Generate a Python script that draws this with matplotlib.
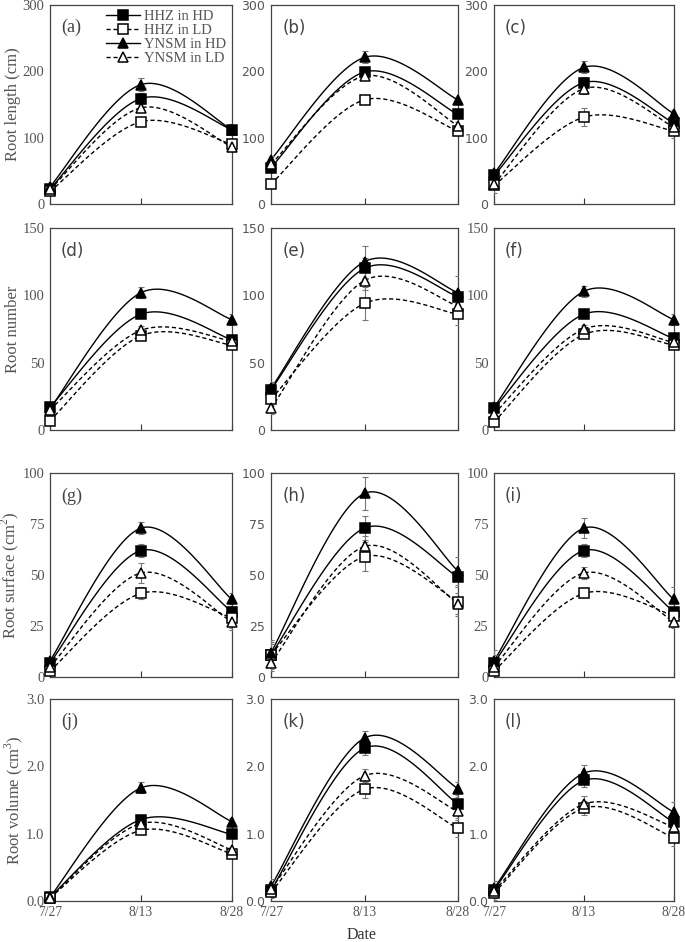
import numpy as np
import matplotlib
matplotlib.use('Agg')
import matplotlib.pyplot as plt
from matplotlib.lines import Line2D

plt.rcParams['mathtext.fontset'] = 'custom'
plt.rcParams['mathtext.rm'] = 'Liberation Serif'

dates = ['7/27', '8/13', '8/28']
series = ['HHZ in HD', 'HHZ in LD', 'YNSM in HD', 'YNSM in LD']

# values per panel, rows = HHZ HD, HHZ LD, YNSM HD, YNSM LD
panel_a = [[23, 159, 112], [19, 124, 90], [26, 180, 112], [22, 145, 86]]
panel_b = [[55, 199, 135], [30, 157, 110], [67, 221, 157], [60, 193, 118]]
panel_c = [[43, 183, 122], [28, 131, 110], [46, 206, 136], [30, 174, 116]]
panel_d = [[17, 86, 67], [7, 70, 63], [16, 102, 82], [15, 74, 66]]
panel_e = [[30, 120, 99], [23, 94, 86], [31, 125, 102], [16, 111, 92]]
panel_f = [[16, 86, 68], [6, 71, 63], [17, 103, 82], [12, 75, 65]]
panel_g = [[7, 62, 32], [3, 41, 29], [8, 73, 38], [5, 51, 27]]
panel_h = [[11, 73, 49], [11, 59, 37], [12, 90, 52], [7, 64, 36]]
panel_i = [[7, 62, 32], [3, 41, 30], [8, 73, 38], [5, 51, 27]]
panel_j = [[0.06, 1.21, 0.99], [0.05, 1.05, 0.70], [0.06, 1.68, 1.18], [0.05, 1.15, 0.76]]
panel_k = [[0.16, 2.27, 1.44], [0.13, 1.66, 1.08], [0.22, 2.42, 1.67], [0.18, 1.86, 1.33]]
panel_l = [[0.17, 1.79, 1.17], [0.12, 1.38, 0.94], [0.19, 1.90, 1.32], [0.15, 1.44, 1.10]]

# standard errors, same layout
err_a = [[4, 8, 8], [4, 5, 6], [5, 10, 6], [4, 6, 6]]
err_b = [[5, 8, 6], [6, 5, 6], [6, 9, 5], [5, 6, 6]]
err_c = [[5, 8, 6], [12, 13, 10], [5, 9, 6], [5, 8, 6]]
err_d = [[3, 3, 3], [2, 2, 2], [3, 4, 4], [3, 3, 3]]
err_e = [[5, 8, 5], [5, 12, 8], [5, 12, 12], [4, 7, 6]]
err_f = [[3, 3, 3], [2, 2, 2], [3, 4, 4], [3, 3, 3]]
err_g = [[2, 3, 4], [2, 3, 5], [2, 3, 3], [2, 5, 4]]
err_h = [[7, 6, 5], [5, 7, 7], [5, 8, 7], [4, 5, 5]]
err_i = [[6, 3, 6], [2, 2, 3], [3, 5, 6], [2, 3, 3]]
err_j = [[0.03, 0.05, 0.05], [0.03, 0.05, 0.04], [0.03, 0.08, 0.05], [0.03, 0.05, 0.04]]
err_k = [[0.10, 0.10, 0.10], [0.08, 0.13, 0.13], [0.10, 0.10, 0.10], [0.08, 0.10, 0.10]]
err_l = [[0.13, 0.10, 0.12], [0.10, 0.10, 0.13], [0.10, 0.12, 0.15], [0.08, 0.12, 0.10]]

ylabels = ['Root length (cm)', 'Root number',
           'Root surface (cm$^{2}$)', 'Root volume (cm$^{3}$)']
yticks_rows = [[0, 100, 200, 300], [0, 50, 100, 150],
               [0, 25, 50, 75, 100], [0, 1, 2, 3]]
ytick_labels_rows = [['0', '100', '200', '300'], ['0', '50', '100', '150'],
                     ['0', '25', '50', '75', '100'], ['0.0', '1.0', '2.0', '3.0']]

panels = [[panel_a, panel_b, panel_c], [panel_d, panel_e, panel_f],
          [panel_g, panel_h, panel_i], [panel_j, panel_k, panel_l]]
errs = [[err_a, err_b, err_c], [err_d, err_e, err_f],
        [err_g, err_h, err_i], [err_j, err_k, err_l]]
letters = [['a', 'b', 'c'], ['d', 'e', 'f'], ['g', 'h', 'i'], ['j', 'k', 'l']]

styles = [dict(ls='-', marker='s', mfc='black'),
          dict(ls=(0, (3, 2)), marker='s', mfc='white'),
          dict(ls='-', marker='^', mfc='black'),
          dict(ls=(0, (3, 2)), marker='^', mfc='white')]

GRAY = '#555555'
SERIF = 'Liberation Serif'
SANS = 'DejaVu Sans'


def smooth(x, y, n=60):
    """Excel-like smoothed line: Catmull-Rom bezier through the points."""
    x = np.asarray(x, float)
    y = np.asarray(y, float)
    px = np.concatenate([[x[0]], x, [x[-1]]])
    py = np.concatenate([[y[0]], y, [y[-1]]])
    xs, ys = [], []
    t = np.linspace(0, 1, n)
    for i in range(1, len(px) - 2):
        p0 = np.array([px[i], py[i]])
        p3 = np.array([px[i + 1], py[i + 1]])
        c1 = p0 + (np.array([px[i + 1], py[i + 1]]) - np.array([px[i - 1], py[i - 1]])) / 6
        c2 = p3 - (np.array([px[i + 2], py[i + 2]]) - np.array([px[i], py[i]])) / 6
        b = ((1 - t) ** 3)[:, None] * p0 + (3 * (1 - t) ** 2 * t)[:, None] * c1 \
            + (3 * (1 - t) * t ** 2)[:, None] * c2 + (t ** 3)[:, None] * p3
        xs.extend(b[:, 0])
        ys.extend(b[:, 1])
    return xs, ys


fig = plt.figure(figsize=(6.85, 9.42), dpi=100)

col_left = [50, 271, 494]
col_width = [182, 187, 180]
row_top = [5, 228, 473, 699]
row_bottom = [204, 430, 677, 901]

# which panels use a sans font for tick labels / panel letter
sans_ticks = [[False, True, True], [False, True, False],
              [False, True, False], [False, True, True]]
sans_letter = [[False, True, True], [True, True, True],
               [False, True, True], [False, True, True]]

x = np.arange(len(dates))

for r in range(4):
    for c in range(3):
        ax = fig.add_axes([col_left[c] / 685, 1 - row_bottom[r] / 942,
                           col_width[c] / 685, (row_bottom[r] - row_top[r]) / 942])
        data = panels[r][c]
        err = errs[r][c]
        for k in range(4):
            sx, sy = smooth(x, data[k])
            ax.plot(sx, sy, color='black', lw=1.0, ls=styles[k]['ls'], zorder=2)
            ax.errorbar(x, data[k], yerr=err[k], fmt='none', ecolor='#777777',
                        elinewidth=0.8, capsize=2.5, capthick=0.8, zorder=3)
            ax.plot(x, data[k], ls='none', marker=styles[k]['marker'],
                    mfc=styles[k]['mfc'], mec='black', mew=1.1, ms=6.5,
                    clip_on=False, zorder=4)

        ax.set_xlim(0, 2)
        ax.set_ylim(yticks_rows[r][0], yticks_rows[r][-1])
        ax.set_xticks(x)
        ax.set_yticks(yticks_rows[r])
        tick_font = SANS if sans_ticks[r][c] else SERIF
        ax.set_yticklabels(ytick_labels_rows[r], family=tick_font,
                           fontsize=9 if sans_ticks[r][c] else 10.5, color=GRAY)
        if r == 3:
            ax.set_xticklabels(dates, family=SERIF, fontsize=9.8, color=GRAY)
        else:
            ax.set_xticklabels([])
        ax.tick_params(axis='x', direction='in', length=4, color='#333333')
        ax.tick_params(axis='y', direction='out', length=0, pad=4)
        for s in ax.spines.values():
            s.set_color('#444444')
            s.set_linewidth(0.9)

        ax.text(0.06, 0.93, '(%s)' % letters[r][c], transform=ax.transAxes,
                family=SANS if sans_letter[r][c] else SERIF,
                fontsize=13 if not sans_letter[r][c] else 12,
                color='#444444', va='top', ha='left')

        if c == 0:
            ax.set_ylabel(ylabels[r], family=SERIF, fontsize=12, color=GRAY,
                          labelpad=1)

        if r == 0 and c == 0:
            handles = [Line2D([], [], color='black', lw=1.0, ls=st['ls'],
                              marker=st['marker'], mfc=st['mfc'], mec='black',
                              mew=1.1, ms=6.5) for st in styles]
            leg = ax.legend(handles, series, loc='upper left',
                            bbox_to_anchor=(0.26, 1.02), frameon=False,
                            prop={'family': SERIF, 'size': 10.5},
                            handlelength=2.3, handletextpad=0.3,
                            labelspacing=0.05, borderpad=0.1)
            for t in leg.get_texts():
                t.set_color(GRAY)

fig.text(362 / 685, 1 - 935 / 942, 'Date', family=SERIF, fontsize=11.5,
         color='#333333', ha='center', va='center')

fig.savefig('out.png', dpi=100)
